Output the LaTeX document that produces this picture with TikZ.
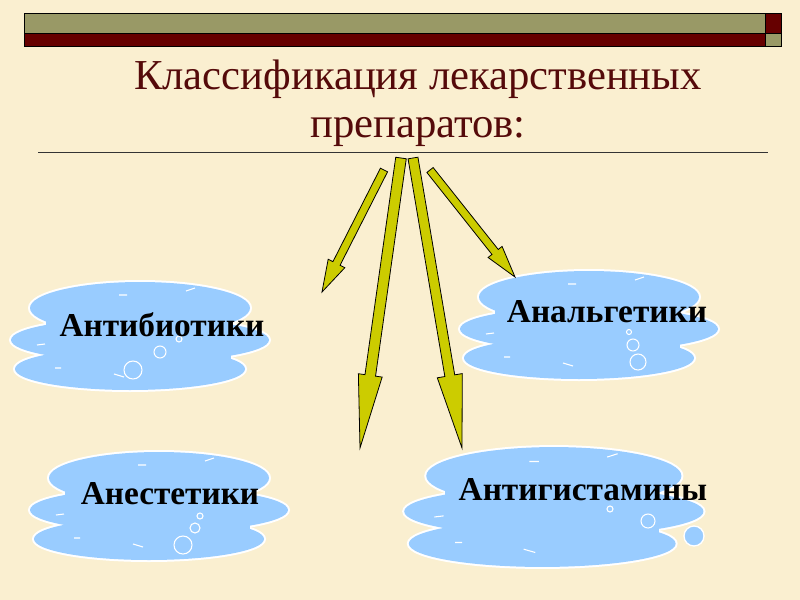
\documentclass[tikz,border=0pt]{standalone}
\usepackage{fontspec}
\setmainfont{Liberation Serif}
\usetikzlibrary{calc}
\definecolor{bg}{RGB}{250,239,208}
\definecolor{olivebar}{RGB}{153,153,102}
\definecolor{darkred}{RGB}{102,0,0}
\definecolor{titlered}{RGB}{85,10,10}
\definecolor{arrowyellow}{RGB}{204,204,0}
\definecolor{cloudblue}{RGB}{153,204,255}
\tikzset{
  cloudfill/.style={fill=cloudblue},
  cloudedge/.style={draw=white, line width=3pt},
  dashmark/.style={draw=white, line width=0.8pt},
  bubble/.style={draw=white, line width=0.8pt},
  fatarrow/.style={fill=arrowyellow, draw=black, line width=0.6pt, line join=miter},
  barbox/.style={draw=black, line width=0.6pt},
  label/.style={font=\fontsize{25}{28}\selectfont\bfseries, text=black, inner sep=0pt},
}
\newcommand\cloudbody{%
  \path[cloudedge] (-1,-28) ellipse (110 and 26);
  \path[cloudedge] (-1,4) ellipse (129 and 22);
  \path[cloudedge] (-11,33) ellipse (115 and 21);
  \path[cloudfill] (-1,-28) ellipse (110 and 26);
  \path[cloudfill] (-1,4) ellipse (129 and 22);
  \path[cloudfill] (-11,33) ellipse (115 and 21);
  \path[cloudfill] (-95,-30) rectangle (90,40);
  \draw[dashmark] (-22,-41) -- (-14,-41) (45,-45) -- (54,-48) (-104,9) -- (-96,8) (-86,32) -- (-80,32) (-27,38) -- (-17,41);
}
\newcommand\fatarr[5]{% tail, tip, shaft half width, head half width, head length
  \path ($(#2)!#5!(#1)$) coordinate (fa-h);
  \filldraw[fatarrow] ($(#1)!#3!90:(#2)$) -- ($(fa-h)!#3!90:(#2)$) -- ($(fa-h)!#4!90:(#2)$) -- (#2)
    -- ($(fa-h)!#4!-90:(#2)$) -- ($(fa-h)!#3!-90:(#2)$) -- ($(#1)!#3!-90:(#2)$) -- cycle;
}
\begin{document}
\begin{tikzpicture}[x=0.75pt, y=-0.75pt]
  \fill[bg] (0,0) rectangle (800,600);
  \useasboundingbox (0,0) rectangle (800,600);
  % top bars
  \filldraw[barbox, fill=olivebar] (24,13) rectangle (765,33);
  \filldraw[barbox, fill=darkred] (24,33) rectangle (765,46);
  \filldraw[barbox, fill=darkred] (765,13) rectangle (781,33);
  \filldraw[barbox, fill=olivebar] (765,33) rectangle (781,46);
  % title
  \node[font=\fontsize{32}{36}\selectfont, text=titlered, align=center, inner sep=0pt] (title) at (418,103)
    {Классификация лекарственных\\препаратов:};
  \draw[line width=0.7pt, draw=black!80] (38,152) -- (768,152);
  % clouds
  \begin{scope}[shift={(141,336)}] \cloudbody
    \draw[bubble] (-8,34) circle (9) (19,16) circle (6) (38,3) circle (3); \end{scope}
  \begin{scope}[shift={(590,325)}] \cloudbody
    \draw[bubble] (48,37) circle (8) (43,20) circle (6) (39,7) circle (2.5); \end{scope}
  \begin{scope}[shift={(160,506)}] \cloudbody
    \draw[bubble] (23,39) circle (9) (35,22) circle (5) (40,10) circle (3); \end{scope}
  \begin{scope}[shift={(555,507)}, xscale=1.16, yscale=1.11] \cloudbody \end{scope}
  \draw[bubble] (610,509) circle (3) (648,521) circle (7);
  \filldraw[cloudfill, draw=white, line width=1pt] (694,536) circle (10);
  % labels
  \node[label] (antib) at (162,325) {Антибиотики};
  \node[label] (analg) at (607,312) {Анальгетики};
  \node[label] (anest) at (170,494) {Анестетики};
  \node[label] (antig) at (583,490) {Антигистамины};
  % arrows
  \coordinate (t1) at (384,170); \coordinate (p1) at (322,292);
  \coordinate (t2) at (401,158); \coordinate (p2) at (360,448);
  \coordinate (t3) at (413,158); \coordinate (p3) at (462,448);
  \coordinate (t4) at (430,170); \coordinate (p4) at (515,277);
  \fatarr{t1}{p1}{3pt}{7pt}{24pt}
  \fatarr{t2}{p2}{4pt}{9pt}{55pt}
  \fatarr{t3}{p3}{3.75pt}{9.5pt}{55pt}
  \fatarr{t4}{p4}{3pt}{6.7pt}{24pt}
\end{tikzpicture}
\end{document}
